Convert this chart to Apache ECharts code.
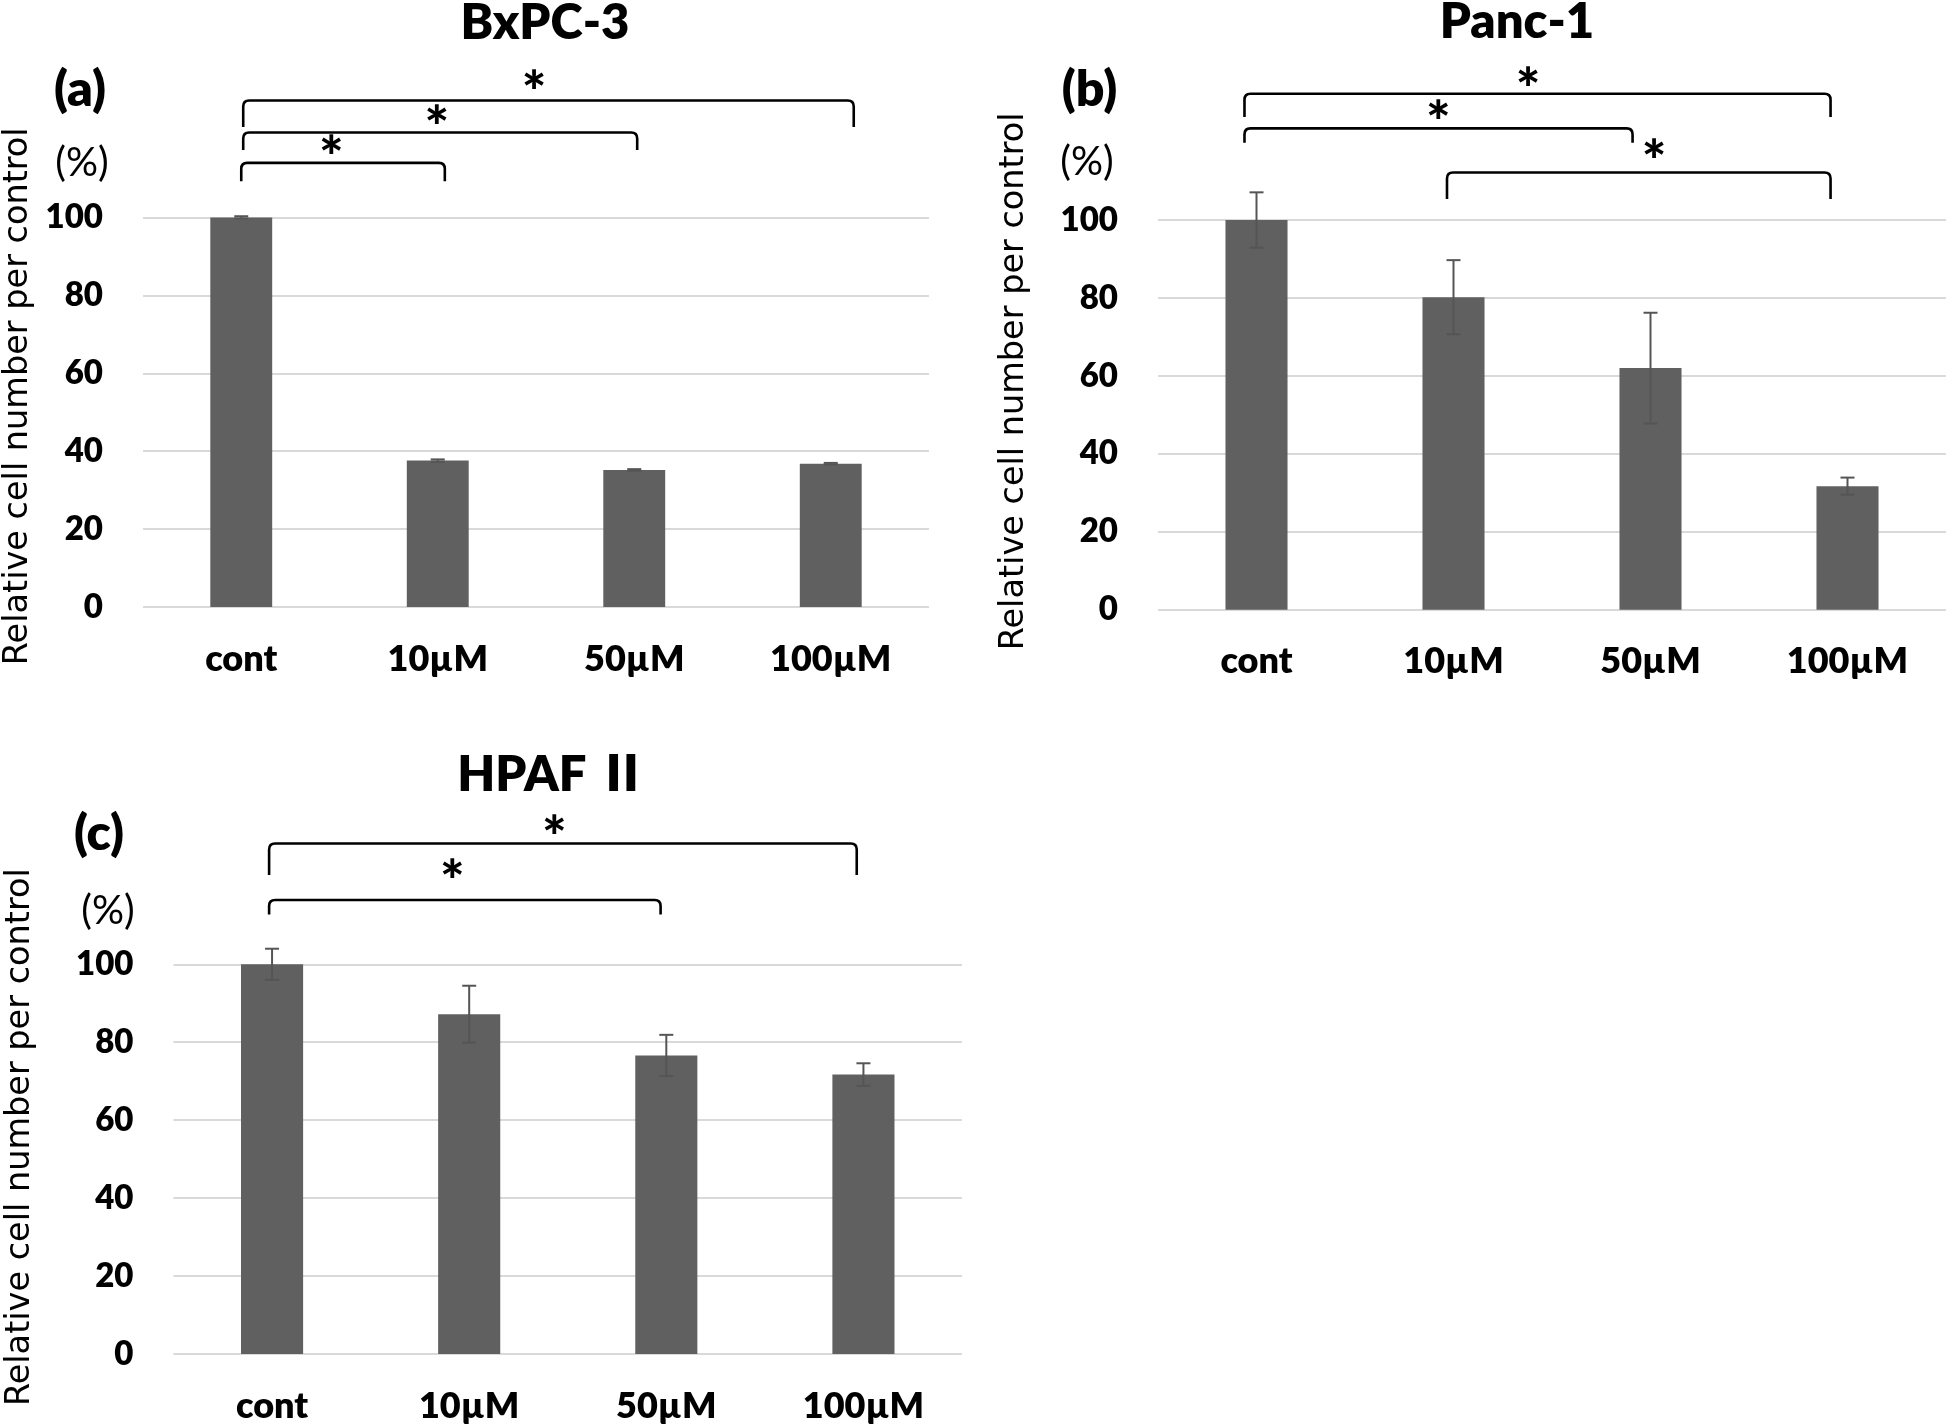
<!DOCTYPE html>
<html>
<head>
<meta charset="utf-8">
<script src="https://cdn.jsdelivr.net/npm/echarts@6/dist/echarts.min.js"></script>
<style>
html,body{margin:0;padding:0;background:#fff;}
#chart{width:1946px;height:1427px;}
</style>
</head>
<body>
<div id="chart"></div>
<script>
// ---------------- data ----------------
const categories = ['cont', '10µM', '50µM', '100µM'];
const yTicks = [0, 20, 40, 60, 80, 100];
const bxpcMean = [100, 37.6, 35.2, 36.8];
const bxpcErr = [0.3, 0.3, 0.2, 0.2];
const pancMean = [100, 80.2, 62.0, 31.7];
const pancErr = [7.1, 9.5, 14.2, 2.2];
const hpafMean = [100, 87.2, 76.6, 71.7];
const hpafErr = [4.0, 7.3, 5.3, 2.9];
const panelTitles = ['BxPC-3', 'Panc-1', 'HPAF Ⅱ'];
const panelLetters = ['(a)', '(b)', '(c)'];
const unitLabel = '(%)';
const yAxisTitle = 'Relative cell number per control';
const sigPairsA = [['cont', '10µM'], ['cont', '50µM'], ['cont', '100µM']];
const sigPairsB = [['cont', '50µM'], ['cont', '100µM'], ['10µM', '100µM']];
const sigPairsC = [['cont', '50µM'], ['cont', '100µM']];
const sigMark = '*';

// ---------------- layout (positions / styles) ----------------
const BOLD = 'Lato, "Noto Sans CJK JP", sans-serif';
const HEAVY = 800;
const K_MID = 0.387; // baseline offset of canvas "middle" for Lato
const LAYOUT = {
  grids: [
    {left: 141, top: 217.4, width: 788, height: 389.7},
    {left: 1158, top: 220, width: 788, height: 389.7},
    {left: 173.5, top: 964.3, width: 788.5, height: 389.7}
  ],
  nameGap: [108, 127, 136],
  namePad: [32, 67, 44],
  titles: [{x: 545, b: 42}, {x: 1517, b: 41}, {x: 552, b: 794}],
  letters: [{x: 80, b: 109}, {x: 1089.5, b: 109}, {x: 99, b: 853}],
  units: [{x: 82, b: 179}, {x: 1087, b: 178}, {x: 108, b: 927}],
  brackets: [
    [
      {level: 114.0, drop: 109.3, dl: 0.0, dr: 0.036, sx: 0.459, sy: 117.4},
      {level: 121.8, drop: 117.3, dl: 0.01, dr: 0.015, sx: 0.995, sy: 125.1},
      {level: 130.0, drop: 123.2, dl: 0.01, dr: 0.117, sx: 1.49, sy: 134.0}
    ],
    [
      {level: 123.5, drop: 119.8, dl: -0.061, dr: -0.091, sx: 0.923, sy: 127.0},
      {level: 132.4, drop: 126.4, dl: -0.061, dr: -0.086, sx: 1.379, sy: 135.5},
      {level: 112.2, drop: 105.4, dl: -0.033, dr: -0.086, sx: 2.018, sy: 117.2}
    ],
    [
      {level: 116.5, drop: 112.8, dl: -0.015, dr: -0.029, sx: 0.914, sy: 123.2},
      {level: 131.0, drop: 122.9, dl: -0.015, dr: -0.034, sx: 1.432, sy: 134.6}
    ]
  ]
};

const means = [bxpcMean, pancMean, hpafMean];
const errs = [bxpcErr, pancErr, hpafErr];
const pairs = [sigPairsA, sigPairsB, sigPairsC];

function errRenderer(params, api) {
  const x = api.value(0), lo = api.value(1), hi = api.value(2);
  const pHi = api.coord([x, hi]);
  const pLo = api.coord([x, lo]);
  const hw = 7;
  const st = {stroke: '#555555', lineWidth: 2};
  return {type: 'group', children: [
    {type: 'line', shape: {x1: pHi[0], y1: pHi[1], x2: pLo[0], y2: pLo[1]}, style: st},
    {type: 'line', shape: {x1: pHi[0] - hw, y1: pHi[1], x2: pHi[0] + hw, y2: pHi[1]}, style: st},
    {type: 'line', shape: {x1: pLo[0] - hw, y1: pLo[1], x2: pLo[0] + hw, y2: pLo[1]}, style: st}
  ]};
}

function bracketRenderer(pairList, geo) {
  return function (params, api) {
    const i = params.dataIndex;
    const g = geo[i];
    const p0 = api.coord([0, 0]);
    const p1 = api.coord([1, 0]);
    const step = p1[0] - p0[0];
    const xAt = c => p0[0] + c * step;
    const yAt = v => api.coord([0, v])[1];
    const a = categories.indexOf(pairList[i][0]) + g.dl;
    const b = categories.indexOf(pairList[i][1]) + g.dr;
    const x1 = xAt(a), x2 = xAt(b), yt = yAt(g.level), yb = yAt(g.drop);
    const r = 6;
    const d = 'M' + x1 + ',' + yb + ' L' + x1 + ',' + (yt + r) + ' Q' + x1 + ',' + yt + ' ' + (x1 + r) + ',' + yt +
      ' L' + (x2 - r) + ',' + yt + ' Q' + x2 + ',' + yt + ' ' + x2 + ',' + (yt + r) + ' L' + x2 + ',' + yb;
    const fs = 58;
    return {type: 'group', children: [
      {type: 'path', shape: {pathData: d}, style: {fill: 'none', stroke: '#000', lineWidth: 2.6}},
      {type: 'text', x: xAt(g.sx), y: yAt(g.sy) + 0.17 * fs,
        style: {text: sigMark, fontFamily: BOLD, fontWeight: 900, fontSize: fs, fill: '#000',
          align: 'center', verticalAlign: 'middle'}}
    ]};
  };
}

const grid = [], xAxis = [], yAxis = [], series = [], graphic = [];
for (let i = 0; i < 3; i++) {
  grid.push(Object.assign({containLabel: false}, LAYOUT.grids[i]));
  xAxis.push({
    gridIndex: i, type: 'category', data: categories,
    axisLine: {show: false}, axisTick: {show: false},
    axisLabel: {interval: 0, margin: 34, color: '#000', fontFamily: BOLD, fontWeight: HEAVY, fontSize: 36}
  });
  yAxis.push({
    gridIndex: i, type: 'value',
    min: yTicks[0], max: yTicks[yTicks.length - 1], interval: yTicks[1] - yTicks[0],
    axisLine: {show: false}, axisTick: {show: false},
    splitLine: {show: true, lineStyle: {color: '#d9d9d9', width: 2}},
    axisLabel: {margin: 40, color: '#000', fontFamily: BOLD, fontWeight: HEAVY, fontSize: 33},
    name: yAxisTitle, nameLocation: 'middle', nameRotate: 90, nameGap: LAYOUT.nameGap[i],
    nameTextStyle: {color: '#000', fontFamily: '"DejaVu Sans", sans-serif', fontSize: 33.5,
      padding: [0, 0, 0, LAYOUT.namePad[i]]}
  });
  series.push({
    type: 'bar', xAxisIndex: i, yAxisIndex: i, data: means[i],
    barWidth: '31.5%', itemStyle: {color: '#606060'}, silent: true, animation: false
  });
  series.push({
    type: 'custom', xAxisIndex: i, yAxisIndex: i, z: 5, animation: false, silent: true,
    data: categories.map((c, k) => [k, means[i][k] - errs[i][k], means[i][k] + errs[i][k]]),
    encode: {x: 0, y: [1, 2]},
    renderItem: errRenderer
  });
  series.push({
    type: 'custom', xAxisIndex: i, yAxisIndex: i, z: 6, animation: false, silent: true, clip: false,
    data: pairs[i].map((p, k) => [k, 0]),
    encode: {x: 0, y: 1},
    renderItem: bracketRenderer(pairs[i], LAYOUT.brackets[i])
  });
  const t = LAYOUT.titles[i];
  graphic.push({type: 'text', x: t.x, y: t.b - K_MID * 49,
    style: {text: panelTitles[i], fontFamily: BOLD, fontWeight: HEAVY, fontSize: 49, fill: '#000',
      align: 'center', verticalAlign: 'middle'}});
  const l = LAYOUT.letters[i];
  graphic.push({type: 'text', x: l.x, y: l.b - K_MID * 50,
    style: {text: panelLetters[i], fontFamily: BOLD, fontWeight: HEAVY, fontSize: 50, fill: '#000',
      align: 'center', verticalAlign: 'middle'}});
  const u = LAYOUT.units[i];
  graphic.push({type: 'text', x: u.x, y: u.b - K_MID * 40,
    style: {text: unitLabel, fontFamily: BOLD, fontWeight: 'normal', fontSize: 40, fill: '#000',
      align: 'center', verticalAlign: 'middle'}});
}

const chart = echarts.init(document.getElementById('chart'), null, {renderer: 'canvas'});
chart.setOption({
  backgroundColor: '#ffffff',
  animation: false,
  grid: grid, xAxis: xAxis, yAxis: yAxis, series: series, graphic: graphic
});
</script>
</body>
</html>
